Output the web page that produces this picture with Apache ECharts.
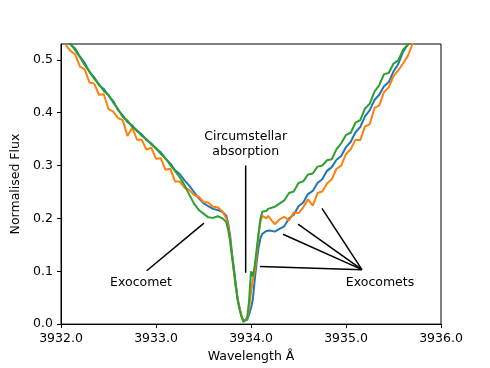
<!DOCTYPE html>
<html lang="en" style="height: 100%">
<head>
  <meta charset="utf-8">
</head>
<body style="height: 100%; margin: 0">
  <div id="container" style="width: 490px; height: 368px"></div>

  <script type="text/javascript" src="https://fastly.jsdelivr.net/npm/echarts@6/dist/echarts.min.js"></script>

  <script type="text/javascript">
    // wavelength grid (Angstrom), finer around the line core
    var wavelength = [
      3932.05, 3932.10, 3932.15, 3932.20, 3932.25, 3932.30, 3932.35, 3932.40, 3932.45, 3932.50,
      3932.55, 3932.60, 3932.65, 3932.70, 3932.75, 3932.80, 3932.85, 3932.90, 3932.95, 3933.00,
      3933.05, 3933.10, 3933.15, 3933.20, 3933.25, 3933.30, 3933.35, 3933.40, 3933.45, 3933.50,
      3933.55, 3933.60, 3933.65, 3933.70,
      3933.72, 3933.74, 3933.76, 3933.78, 3933.80, 3933.82, 3933.84, 3933.86, 3933.88, 3933.90,
      3933.92, 3933.94, 3933.96, 3933.98, 3934.00, 3934.02, 3934.04, 3934.06, 3934.08, 3934.10,
      3934.12, 3934.14, 3934.16, 3934.18, 3934.20,
      3934.25, 3934.30, 3934.35, 3934.40, 3934.45, 3934.50, 3934.55, 3934.60, 3934.65, 3934.70,
      3934.75, 3934.80, 3934.85, 3934.90, 3934.95, 3935.00, 3935.05, 3935.10, 3935.15, 3935.20,
      3935.25, 3935.30, 3935.35, 3935.40, 3935.45, 3935.50, 3935.55, 3935.60, 3935.65, 3935.70, 3935.75
    ];

    var fluxBlue = [
      0.545, 0.529, 0.521, 0.506, 0.494, 0.477, 0.467, 0.452, 0.445, 0.432,
      0.422, 0.405, 0.395, 0.382, 0.376, 0.365, 0.359, 0.348, 0.342, 0.332,
      0.325, 0.313, 0.304, 0.291, 0.284, 0.272, 0.262, 0.250, 0.238, 0.229,
      0.223, 0.218, 0.216, 0.212,
      0.211, 0.205, 0.190, 0.168, 0.135, 0.105, 0.075, 0.048, 0.030, 0.015,
      0.006, 0.004, 0.008, 0.018, 0.030, 0.048, 0.085, 0.118, 0.145, 0.163,
      0.171, 0.174, 0.176, 0.175, 0.177,
      0.175, 0.180, 0.185, 0.200, 0.207, 0.223, 0.230, 0.246, 0.252, 0.267,
      0.274, 0.290, 0.297, 0.311, 0.318, 0.335, 0.345, 0.363, 0.373, 0.393,
      0.405, 0.424, 0.434, 0.450, 0.458, 0.478, 0.492, 0.515, 0.529, 0.546, 0.560
    ];

    var fluxOrange = [
      0.528, 0.517, 0.510, 0.487, 0.482, 0.457, 0.455, 0.434, 0.435, 0.407,
      0.402, 0.390, 0.386, 0.356, 0.372, 0.349, 0.349, 0.330, 0.334, 0.313,
      0.314, 0.292, 0.294, 0.270, 0.270, 0.258, 0.254, 0.244, 0.241, 0.231,
      0.230, 0.222, 0.221, 0.213,
      0.210, 0.200, 0.185, 0.160, 0.130, 0.100, 0.070, 0.045, 0.030, 0.016,
      0.006, 0.004, 0.010, 0.030, 0.060, 0.085, 0.100, 0.130, 0.170, 0.195,
      0.205, 0.203, 0.200, 0.205, 0.200,
      0.189, 0.198, 0.203, 0.196, 0.211, 0.210, 0.221, 0.236, 0.224, 0.248,
      0.251, 0.266, 0.274, 0.294, 0.300, 0.322, 0.331, 0.349, 0.348, 0.374,
      0.378, 0.409, 0.414, 0.439, 0.448, 0.469, 0.480, 0.493, 0.507, 0.530, 0.545
    ];

    var fluxGreen = [
      0.543, 0.531, 0.518, 0.505, 0.490, 0.478, 0.464, 0.454, 0.441, 0.434,
      0.419, 0.407, 0.392, 0.385, 0.373, 0.367, 0.356, 0.350, 0.340, 0.333,
      0.322, 0.314, 0.301, 0.290, 0.278, 0.263, 0.245, 0.228, 0.216, 0.209,
      0.202, 0.201, 0.204, 0.200,
      0.198, 0.193, 0.178, 0.158, 0.128, 0.100, 0.072, 0.045, 0.028, 0.014,
      0.004, 0.003, 0.012, 0.045, 0.100, 0.090, 0.112, 0.142, 0.172, 0.200,
      0.213, 0.216, 0.214, 0.218, 0.217,
      0.222, 0.228, 0.234, 0.248, 0.251, 0.267, 0.270, 0.283, 0.285, 0.298,
      0.300, 0.310, 0.312, 0.331, 0.342, 0.358, 0.362, 0.381, 0.386, 0.408,
      0.417, 0.440, 0.452, 0.473, 0.475, 0.493, 0.499, 0.519, 0.528, 0.546, 0.560
    ];

    // annotation pointer lines, in data coordinates
    var exocometLine = [[3932.902, 0.101], [3933.505, 0.191]];
    var circumstellarLine = [[3933.944, 0.300], [3933.944, 0.097]];
    var exocometsHub = [3935.168, 0.103];
    var exocometsTargets = [[3934.095, 0.109], [3934.337, 0.170], [3934.495, 0.189], [3934.747, 0.219]];

    var annotationTexts = [
      { name: 'Exocomet', value: [3932.842, 0.079] },
      { name: 'Exocomets', value: [3935.358, 0.079] },
      { name: 'Circumstellar\nabsorption', value: [3933.944, 0.340] }
    ];

    var xTicks = [3932, 3933, 3934, 3935, 3936];

    var FONT = 'DejaVu Sans';

    function pairs(ys) {
      return wavelength.map(function (w, i) { return [w, ys[i]]; });
    }

    function pointerSeries(pts) {
      return {
        type: 'line',
        data: pts,
        symbol: 'none',
        silent: true,
        z: 5,
        lineStyle: { color: '#000', width: 1.5 }
      };
    }

    var series = [
      { name: 'blue', color: '#1f77b4', data: pairs(fluxBlue) },
      { name: 'orange', color: '#ff7f0e', data: pairs(fluxOrange) },
      { name: 'green', color: '#2ca02c', data: pairs(fluxGreen) }
    ].map(function (s) {
      return {
        type: 'line',
        name: s.name,
        data: s.data,
        symbol: 'none',
        clip: true,
        lineStyle: { color: s.color, width: 2 },
        itemStyle: { color: s.color }
      };
    });

    series.push(pointerSeries(exocometLine));
    series.push(pointerSeries(circumstellarLine));
    exocometsTargets.forEach(function (t) {
      series.push(pointerSeries([exocometsHub, t]));
    });

    series.push({
      type: 'scatter',
      data: annotationTexts,
      symbolSize: 0,
      silent: true,
      z: 6,
      itemStyle: { opacity: 1 },
      label: {
        show: true,
        position: 'inside',
        formatter: function (p) { return p.name; },
        color: '#000',
        opacity: 1,
        fontFamily: FONT,
        fontSize: 12.5,
        lineHeight: 15,
        align: 'center'
      }
    });

    var dom = document.getElementById('container');
    var myChart = echarts.init(dom, null, { renderer: 'canvas' });

    var option = {
      animation: false,
      backgroundColor: '#fff',
      grid: {
        left: 61, right: 49, top: 44, bottom: 41,
        show: true, borderColor: '#000', borderWidth: 1, backgroundColor: 'transparent'
      },
      xAxis: {
        type: 'value',
        min: xTicks[0],
        max: xTicks[xTicks.length - 1],
        interval: 1,
        name: 'Wavelength Å',
        nameLocation: 'middle',
        nameGap: 24,
        nameTextStyle: { color: '#000', fontFamily: FONT, fontSize: 12.5 },
        axisLine: { lineStyle: { color: '#000', width: 1 } },
        axisTick: { length: 4, lineStyle: { color: '#000' } },
        axisLabel: {
          color: '#000', fontFamily: FONT, fontSize: 12.5, margin: 8,
          formatter: function (v) { return v.toFixed(1); }
        },
        splitLine: { show: false }
      },
      yAxis: {
        type: 'value',
        min: 0,
        max: 0.53,
        interval: 0.1,
        name: 'Normalised Flux',
        nameLocation: 'middle',
        nameGap: 33,
        nameTextStyle: { color: '#000', fontFamily: FONT, fontSize: 12.5 },
        axisLine: { lineStyle: { color: '#000', width: 1 } },
        axisTick: { length: 4, lineStyle: { color: '#000' } },
        axisLabel: {
          color: '#000', fontFamily: FONT, fontSize: 12.5, margin: 8,
          showMaxLabel: false,
          formatter: function (v) { return v.toFixed(1); }
        },
        splitLine: { show: false }
      },
      series: series
    };

    myChart.setOption(option);

    window.addEventListener('resize', myChart.resize);
  </script>
</body>
</html>
